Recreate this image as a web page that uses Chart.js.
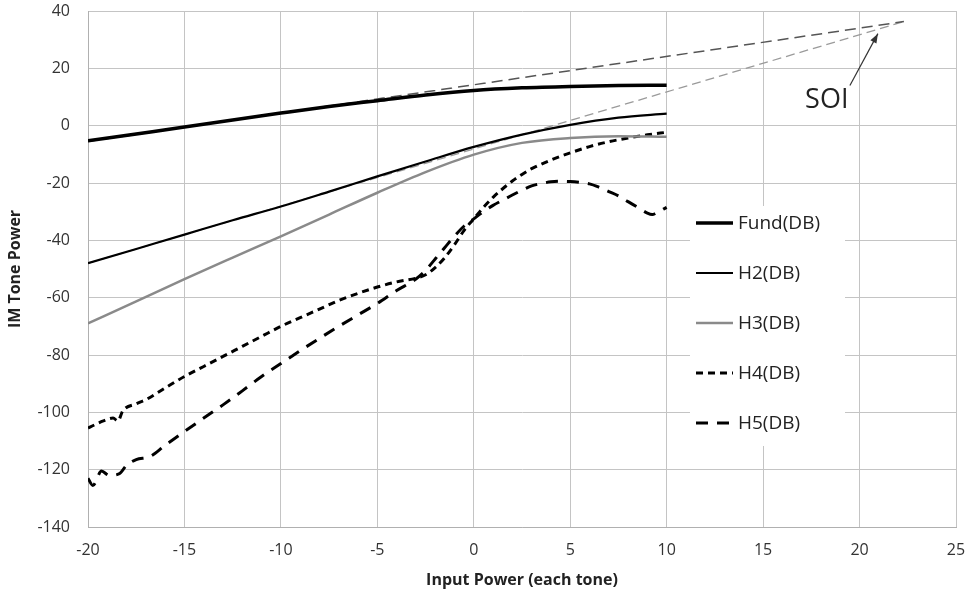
<!DOCTYPE html>
<html>
<head>
<meta charset="utf-8">
<script src="https://cdn.jsdelivr.net/npm/chart.js@4.4.1/dist/chart.umd.min.js"></script>
<style>
  body { margin: 0; background: #fff; }
  #wrap { width: 973px; height: 599px; }
</style>
</head>
<body>
<div id="wrap"><canvas id="imChart"></canvas></div>
<script>
// Input power grid for the smooth curves
const xGrid = [-20, -17.5, -15, -12.5, -10, -7.5, -5, -2.5, 0, 2.5, 5, 7.5, 10];
const fundDb = [-5.3, -2.9, -0.5, 2.0, 4.4, 6.7, 8.7, 10.7, 12.3, 13.2, 13.7, 14.0, 14.1];
const h2Db = [-48, -43, -38, -33, -28.2, -23, -17.7, -12.5, -7.4, -3.1, 0.3, 2.8, 4.2];
const h3Db = [-69, -61.3, -53.5, -46, -38.6, -31, -23.4, -16.2, -10.1, -6, -4.3, -3.7, -3.9];

// H4 / H5 have their own sample points (noisy at low power)
const h4X = [-20, -19.7, -19.2, -18.7, -18.45, -18.2, -17.5, -17, -16, -15, -14, -13, -12, -11, -10, -9, -8, -7, -6, -5, -4, -3, -2.5, -2, -1.5, -1, -0.5, 0, 0.5, 1, 1.5, 2, 2.5, 3, 4, 5, 6, 7, 8, 9, 10];
const h4Db = [-105.5, -104.5, -103, -102, -103, -99.5, -97, -95.6, -91.5, -87.5, -84, -80.5, -77, -73.5, -70, -67, -64, -61, -58.5, -56.3, -54.5, -53.2, -52, -49.5, -46, -41.5, -36.5, -32.5, -28.5, -25, -22, -19.3, -17, -15, -12, -9.5, -7.3, -5.6, -4.3, -3.2, -2.3];
const h5X = [-20, -19.75, -19.3, -18.9, -18.4, -18, -17.5, -16.8, -16, -15, -14, -13, -12, -11, -10, -9, -8, -7, -6, -5, -4, -3, -2.5, -2, -1.5, -1, -0.5, 0, 0.5, 1, 1.5, 2, 2.5, 3, 3.5, 4, 4.5, 5, 5.5, 6, 6.5, 7, 7.5, 8, 8.5, 9, 9.25, 9.5, 10];
const h5Db = [-123, -125.5, -120.5, -122, -121.5, -118.5, -116.5, -115.5, -111.5, -106.7, -102, -97.4, -92.5, -87.5, -83, -78.5, -74.2, -70, -66, -62, -57.5, -53.5, -50.5, -46.5, -42.5, -38.5, -35, -32.5, -30, -27.8, -26, -24.2, -22.5, -21, -20.2, -19.6, -19.4, -19.5, -19.8, -20.3, -21.5, -23, -24.5, -26.5, -28.5, -30.5, -31, -30.3, -28.5];

// Extrapolated slope lines meeting at the SOI point
const fundExtX = [-20, 22.3];
const fundExtY = [-5.5, 36.3];
const h2ExtX = [-20, 22.3];
const h2ExtY = [-48, 36.3];

const xTicks = [-20, -15, -10, -5, 0, 5, 10, 15, 20, 25];
const yTicks = [-140, -120, -100, -80, -60, -40, -20, 0, 20, 40];

const seriesNames = ['Fund(DB)', 'H2(DB)', 'H3(DB)', 'H4(DB)', 'H5(DB)'];

function pts(xs, ys) {
  return xs.map((x, i) => ({ x: x, y: ys[i] }));
}

const FONT = '"Open Sans", sans-serif';

// Legend drawn inside the plot, over the grid
const innerLegend = {
  id: 'innerLegend',
  afterDatasetsDraw(chart) {
    const ctx = chart.ctx;
    ctx.save();
    ctx.fillStyle = '#fff';
    ctx.fillRect(690, 206, 155, 240);
    ctx.font = '19px ' + FONT;
    ctx.textBaseline = 'middle';
    seriesNames.forEach((name, i) => {
      const ds = chart.data.datasets[i];
      const y = 223 + i * 50;
      ctx.strokeStyle = ds.borderColor;
      ctx.lineWidth = ds.borderWidth;
      ctx.setLineDash(ds.borderDash || []);
      ctx.beginPath();
      ctx.moveTo(696, y);
      ctx.lineTo(733, y);
      ctx.stroke();
      ctx.setLineDash([]);
      ctx.fillStyle = '#222';
      ctx.fillText(name, 738, y + 1);
    });
    ctx.restore();
  }
};

// SOI label with arrow
const soiNote = {
  id: 'soiNote',
  afterDatasetsDraw(chart) {
    const ctx = chart.ctx;
    const xs = chart.scales.x, ys = chart.scales.y;
    const x0 = xs.getPixelForValue(19.5), y0 = ys.getPixelForValue(14);
    const x1 = xs.getPixelForValue(20.95), y1 = ys.getPixelForValue(32.1);
    ctx.save();
    ctx.strokeStyle = '#333';
    ctx.fillStyle = '#333';
    ctx.lineWidth = 1.2;
    ctx.beginPath();
    ctx.moveTo(x0, y0);
    ctx.lineTo(x1, y1);
    ctx.stroke();
    const a = Math.atan2(y1 - y0, x1 - x0);
    ctx.beginPath();
    ctx.moveTo(x1, y1);
    ctx.lineTo(x1 - 10 * Math.cos(a - 0.35), y1 - 10 * Math.sin(a - 0.35));
    ctx.lineTo(x1 - 10 * Math.cos(a + 0.35), y1 - 10 * Math.sin(a + 0.35));
    ctx.closePath();
    ctx.fill();
    ctx.font = '27px ' + FONT;
    ctx.fillStyle = '#222';
    ctx.textAlign = 'center';
    ctx.textBaseline = 'middle';
    ctx.fillText('SOI', xs.getPixelForValue(18.3), ys.getPixelForValue(9));
    ctx.restore();
  }
};

const ctx = document.getElementById('imChart').getContext('2d');
new Chart(ctx, {
  type: 'line',
  data: {
    datasets: [
      { label: seriesNames[0], data: pts(xGrid, fundDb), borderColor: '#000', borderWidth: 3.5 },
      { label: seriesNames[1], data: pts(xGrid, h2Db), borderColor: '#000', borderWidth: 2.2 },
      { label: seriesNames[2], data: pts(xGrid, h3Db), borderColor: '#8a8a8a', borderWidth: 2.5 },
      { label: seriesNames[3], data: pts(h4X, h4Db), borderColor: '#000', borderWidth: 3, borderDash: [7, 5] },
      { label: seriesNames[4], data: pts(h5X, h5Db), borderColor: '#000', borderWidth: 3, borderDash: [12, 9] },
      { label: 'fundExt', data: pts(fundExtX, fundExtY), borderColor: '#555', borderWidth: 1.5, borderDash: [11, 6] },
      { label: 'h2Ext', data: pts(h2ExtX, h2ExtY), borderColor: '#9a9a9a', borderWidth: 1.3, borderDash: [9, 5] }
    ]
  },
  options: {
    responsive: true,
    maintainAspectRatio: false,
    animation: false,
    layout: { padding: { top: 11, right: 17, left: 0, bottom: 0 } },
    elements: {
      point: { radius: 0 },
      line: { cubicInterpolationMode: 'monotone', fill: false }
    },
    plugins: {
      legend: { display: false },
      tooltip: { enabled: false }
    },
    scales: {
      x: {
        type: 'linear',
        min: -20,
        max: 25,
        afterBuildTicks: (scale) => { scale.ticks = xTicks.map(v => ({ value: v })); },
        afterFit: (scale) => { scale.height = 72; },
        grid: { color: '#c4c4c4', tickLength: 14, tickColor: 'rgba(0,0,0,0)' },
        border: { color: '#b0b0b0' },
        ticks: { color: '#333', font: { family: FONT, size: 16 }, padding: 0 },
        title: {
          display: true,
          text: 'Input Power (each tone)',
          color: '#222',
          font: { family: FONT, size: 16, weight: 'bold' },
          padding: { top: 0, bottom: 9 }
        }
      },
      y: {
        min: -140,
        max: 40,
        afterBuildTicks: (scale) => { scale.ticks = yTicks.map(v => ({ value: v })); },
        afterFit: (scale) => { scale.width = 88; },
        grid: { color: '#c4c4c4', tickLength: 18, tickColor: 'rgba(0,0,0,0)' },
        border: { color: '#b0b0b0' },
        ticks: { color: '#333', font: { family: FONT, size: 16 }, padding: 0 },
        title: {
          display: true,
          text: 'IM Tone Power',
          color: '#222',
          font: { family: FONT, size: 16, weight: 'bold' },
          padding: { top: 6, bottom: 0 }
        }
      }
    }
  },
  plugins: [innerLegend, soiNote]
});
</script>
</body>
</html>
